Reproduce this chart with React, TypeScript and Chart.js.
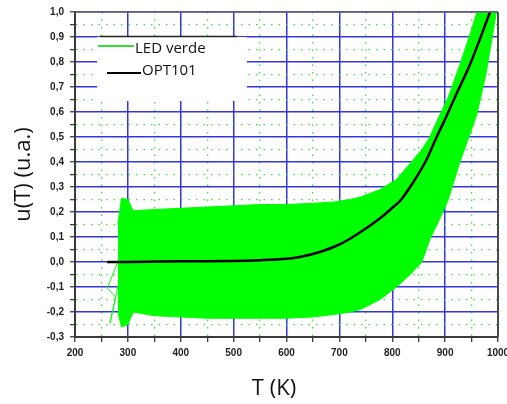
import React, { useEffect, useRef } from 'react';
import { Chart, registerables } from 'chart.js';

Chart.register(...registerables);

// ---- data ----
const X_MIN = 200;
const X_MAX = 1000;
const Y_MIN = -0.3;
const Y_MAX = 1.0;
const SERIES_NAMES = ['LED verde', 'OPT101'];
const X_TITLE = 'T (K)';
const Y_TITLE = 'u(T) (u.a.)';

// LED verde: envelope of the noisy signal (upper / lower edge) at temperature T
const ledT = [281, 288, 300, 310, 350, 400, 450, 500, 550, 600, 650, 690, 720, 740, 777, 808, 834, 856, 871, 887, 906, 928, 950, 960, 978, 997];
const ledUpper = [0.15, 0.255, 0.25, 0.205, 0.21, 0.215, 0.22, 0.225, 0.23, 0.23, 0.235, 0.24, 0.25, 0.26, 0.29, 0.33, 0.395, 0.45, 0.5, 0.575, 0.66, 0.79, 0.93, 1.0, 1.0, 1.0];
const ledLower = [-0.2, -0.26, -0.25, -0.2, -0.215, -0.22, -0.225, -0.225, -0.225, -0.225, -0.22, -0.21, -0.2, -0.19, -0.15, -0.1, -0.05, 0.0, 0.09, 0.16, 0.25, 0.4, 0.53, 0.59, 0.76, 1.0];
// LED verde: thin start trace before the band
const ledStartT = [281, 261, 277, 266, 283];
const ledStartV = [0.0, -0.105, -0.14, -0.245, -0.08];

// OPT101
const optT = [261, 300, 400, 500, 550, 600, 625, 663, 700, 733, 777, 802, 815, 840, 865, 884, 903, 922, 947, 985];
const optV = [0.0, 0.0, 0.003, 0.004, 0.007, 0.013, 0.02, 0.04, 0.07, 0.11, 0.175, 0.22, 0.245, 0.32, 0.41, 0.5, 0.585, 0.675, 0.79, 1.0];

// ---- styles ----
const GREEN = '#00ff00';
const BLUE = '#3535dc';
const MINOR_GREEN = '#3fdc3f';
const AXIS = '#3a3a3a';

const pts = (xs: number[], ys: number[]) => xs.map((x, i) => ({ x, y: ys[i] }));
const isMajorX = (v: number) => Math.abs(Math.round(v)) % 100 === 0;
const isMajorY = (v: number) => Math.abs(Math.round(v * 20)) % 2 === 0;

const overlayPlugin = {
  id: 'overlay',
  afterDatasetsDraw(chart: any) {
    const ctx = chart.ctx as CanvasRenderingContext2D;
    ctx.save();
    // legend box
    ctx.fillStyle = '#ffffff';
    ctx.fillRect(97, 37, 150, 64);
    ctx.strokeStyle = '#222';
    ctx.lineWidth = 1.5;
    ctx.beginPath();
    ctx.moveTo(100, 36.5);
    ctx.lineTo(237, 36.5);
    ctx.stroke();
    ctx.font = '15px "Open Sans"';
    ctx.textAlign = 'left';
    ctx.textBaseline = 'alphabetic';
    ctx.fillStyle = '#111';
    // entry 1
    ctx.strokeStyle = '#33e033';
    ctx.lineWidth = 2;
    ctx.beginPath();
    ctx.moveTo(98, 46);
    ctx.lineTo(134, 46);
    ctx.stroke();
    ctx.fillText(SERIES_NAMES[0], 135, 53);
    // entry 2
    ctx.strokeStyle = '#000';
    ctx.beginPath();
    ctx.moveTo(107, 73);
    ctx.lineTo(141, 73);
    ctx.stroke();
    ctx.fillText(SERIES_NAMES[1], 142, 75);
    ctx.restore();
  },
  afterDraw(chart: any) {
    const ctx = chart.ctx as CanvasRenderingContext2D;
    const { left, right, top, bottom } = chart.chartArea;
    ctx.save();
    ctx.strokeStyle = '#6a6a6a';
    ctx.lineWidth = 1.5;
    ctx.beginPath();
    ctx.moveTo(left, top);
    ctx.lineTo(right, top);
    ctx.stroke();
    ctx.strokeStyle = '#4a4a4a';
    ctx.lineWidth = 2;
    ctx.beginPath();
    ctx.moveTo(right, top);
    ctx.lineTo(right, bottom);
    ctx.stroke();
    // x title
    ctx.font = '22px "Open Sans"';
    ctx.fillStyle = '#111';
    ctx.textAlign = 'center';
    ctx.textBaseline = 'middle';
    ctx.fillText(X_TITLE, 274, 389);
    ctx.restore();
  },
};

export default function App() {
  const ref = useRef<HTMLCanvasElement>(null);
  useEffect(() => {
    document.body.style.margin = '0';
    const chart = new Chart(ref.current as HTMLCanvasElement, {
      type: 'line',
      data: {
        datasets: [
          {
            label: SERIES_NAMES[0],
            data: pts(ledT, ledUpper),
            borderColor: GREEN,
            backgroundColor: GREEN,
            borderWidth: 1,
            pointRadius: 0,
            fill: false,
            order: 2,
          },
          {
            label: SERIES_NAMES[0] + ' (min)',
            data: pts(ledT, ledLower),
            borderColor: GREEN,
            backgroundColor: GREEN,
            borderWidth: 1,
            pointRadius: 0,
            fill: '-1',
            order: 2,
          },
          {
            label: SERIES_NAMES[0] + ' (inicio)',
            data: pts(ledStartT, ledStartV),
            borderColor: GREEN,
            borderWidth: 1,
            pointRadius: 0,
            fill: false,
            order: 2,
          },
          {
            label: SERIES_NAMES[1],
            data: pts(optT, optV),
            borderColor: '#000000',
            backgroundColor: '#000000',
            borderWidth: 2.5,
            pointRadius: 0,
            fill: false,
            cubicInterpolationMode: 'monotone',
            order: 1,
          },
        ],
      },
      options: {
        animation: false,
        responsive: false,
        devicePixelRatio: 1,
        layout: { padding: { top: 12, right: 9, left: 0, bottom: 0 } },
        plugins: {
          legend: { display: false },
          tooltip: { enabled: false },
        },
        scales: {
          x: {
            type: 'linear',
            min: X_MIN,
            max: X_MAX,
            ticks: {
              stepSize: 50,
              autoSkip: false,
              maxRotation: 0,
              padding: 5,
              color: '#222',
              font: { family: 'Liberation Sans', size: 10, weight: 'bold' },
              callback: (v: any) => (isMajorX(Number(v)) ? String(Math.round(Number(v))) : ''),
            },
            grid: {
              color: (c: any) => (c.tick && isMajorX(c.tick.value) ? BLUE : MINOR_GREEN),
              lineWidth: (c: any) => (c.tick && isMajorX(c.tick.value) ? 1.5 : 1.3),
              tickColor: AXIS,
              tickWidth: 1.3,
              tickLength: 5,
            },
            border: {
              color: AXIS,
              width: 2,
              dash: (c: any) => (c.tick && !isMajorX(c.tick.value) ? [1.5, 6] : []),
            },
            title: { display: false },
            afterFit: (s: any) => {
              s.height = 67;
              s.paddingLeft = 0;
              s.paddingRight = 0;
            },
          },
          y: {
            type: 'linear',
            min: Y_MIN,
            max: Y_MAX,
            ticks: {
              stepSize: 0.05,
              autoSkip: false,
              padding: 6,
              color: '#222',
              font: { family: 'Liberation Sans', size: 10, weight: 'bold' },
              callback: (v: any) => (isMajorY(Number(v)) ? Number(v).toFixed(1).replace('.', ',') : ''),
            },
            grid: {
              color: (c: any) => (c.tick && isMajorY(c.tick.value) ? BLUE : MINOR_GREEN),
              lineWidth: (c: any) => (c.tick && isMajorY(c.tick.value) ? 1.5 : 1.3),
              tickColor: AXIS,
              tickWidth: 1.3,
              tickLength: 5,
            },
            border: {
              color: AXIS,
              width: 2,
              dash: (c: any) => (c.tick && !isMajorY(c.tick.value) ? [1.5, 6] : []),
            },
            title: {
              display: true,
              text: Y_TITLE,
              color: '#111',
              font: { family: 'Open Sans', size: 22 },
              padding: { top: 11, bottom: 0 },
            },
            afterFit: (s: any) => {
              s.width = 75;
              s.paddingTop = 0;
              s.paddingBottom = 0;
            },
          },
        },
      } as any,
      plugins: [overlayPlugin],
    });
    return () => chart.destroy();
  }, []);
  return (
    <div style={{ width: 507, height: 404 }}>
      <canvas ref={ref} width={507} height={404} style={{ display: 'block' }} />
    </div>
  );
}
